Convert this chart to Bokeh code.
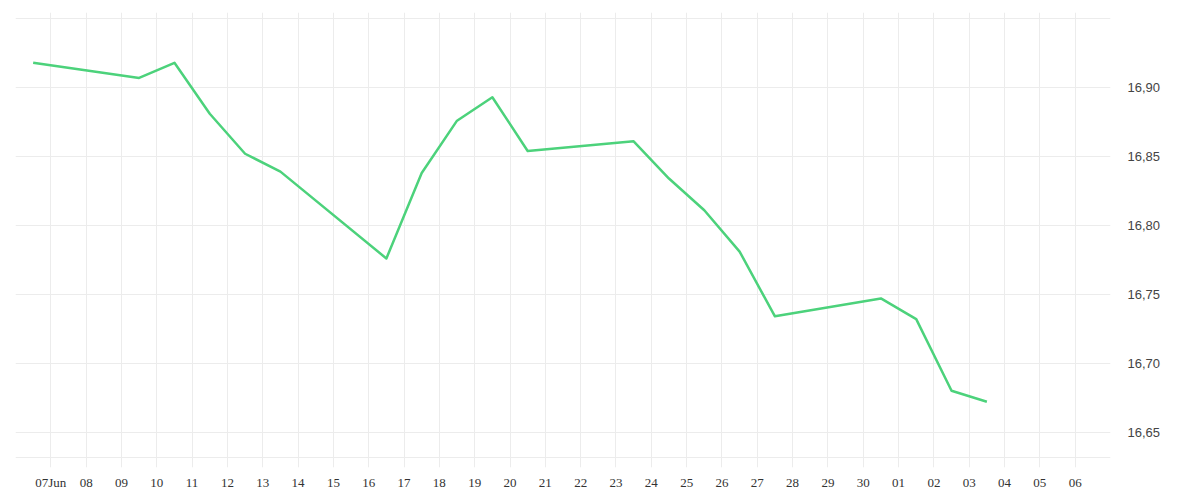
import pandas as pd
from bokeh.plotting import figure
from bokeh.models import FixedTicker, Range1d, ColumnDataSource
from bokeh.embed import file_html
from bokeh.resources import INLINE

# ---- data ----
dates = ["2025-06-06", "2025-06-09", "2025-06-10", "2025-06-11", "2025-06-12",
         "2025-06-13", "2025-06-16", "2025-06-17", "2025-06-18", "2025-06-19",
         "2025-06-20", "2025-06-23", "2025-06-24", "2025-06-25", "2025-06-26",
         "2025-06-27", "2025-06-30", "2025-07-01", "2025-07-02", "2025-07-03"]
values = [16.918, 16.907, 16.918, 16.881, 16.852,
          16.839, 16.776, 16.838, 16.876, 16.893,
          16.854, 16.861, 16.834, 16.811, 16.781,
          16.734, 16.747, 16.732, 16.680, 16.672]

x_tick_dates = ["2025-06-07", "2025-06-08", "2025-06-09", "2025-06-10", "2025-06-11",
                "2025-06-12", "2025-06-13", "2025-06-14", "2025-06-15", "2025-06-16",
                "2025-06-17", "2025-06-18", "2025-06-19", "2025-06-20", "2025-06-21",
                "2025-06-22", "2025-06-23", "2025-06-24", "2025-06-25", "2025-06-26",
                "2025-06-27", "2025-06-28", "2025-06-29", "2025-06-30", "2025-07-01",
                "2025-07-02", "2025-07-03", "2025-07-04", "2025-07-05", "2025-07-06"]
x_tick_labels = ["07Jun", "08", "09", "10", "11", "12", "13", "14", "15", "16",
                 "17", "18", "19", "20", "21", "22", "23", "24", "25", "26",
                 "27", "28", "29", "30", "01", "02", "03", "04", "05", "06"]

y_ticks = [16.65, 16.70, 16.75, 16.80, 16.85, 16.90]
y_tick_labels = ["16,65", "16,70", "16,75", "16,80", "16,85", "16,90"]

# ---- helpers ----
def ms(d):
    return int(pd.Timestamp(d).value // 10**6)

xs = [pd.Timestamp(d) + pd.Timedelta(hours=12) for d in dates]
src = ColumnDataSource(dict(x=xs, y=values))

x_start = pd.Timestamp("2025-06-06")
x_end = pd.Timestamp("2025-07-07")

p = figure(width=1192, height=492, x_axis_type="datetime", y_axis_location="right",
           x_range=Range1d(x_start, x_end), y_range=Range1d(16.6243, 16.9545),
           output_backend="svg", toolbar_location=None,
           min_border_left=15, min_border_top=12, min_border_right=82, min_border_bottom=24)
p.outline_line_color = None
p.background_fill_color = "white"
p.border_fill_color = "white"

p.line("x", "y", source=src, line_color="#4cd27b", line_width=2.5, line_join="round")

# x axis
xt = [ms(d) for d in x_tick_dates]
p.xaxis.ticker = FixedTicker(ticks=xt)
p.xaxis.major_label_overrides = {t: l for t, l in zip(xt, x_tick_labels)}
p.xaxis.axis_line_color = None
p.xaxis.major_tick_line_color = None
p.xaxis.minor_tick_line_color = None
p.xaxis.major_tick_out = 0
p.xaxis.major_label_standoff = 7
p.xaxis.major_label_text_font = "Liberation Serif"
p.xaxis.major_label_text_font_size = "13px"
p.xaxis.major_label_text_color = "#333333"

# y axis
p.yaxis.ticker = FixedTicker(ticks=y_ticks)
p.yaxis.major_label_overrides = {t: l for t, l in zip(y_ticks, y_tick_labels)}
p.yaxis.axis_line_color = None
p.yaxis.major_tick_line_color = None
p.yaxis.minor_tick_line_color = None
p.yaxis.major_tick_out = 0
p.yaxis.major_label_standoff = 17
p.yaxis.major_label_text_font = "Liberation Sans"
p.yaxis.major_label_text_font_size = "13px"
p.yaxis.major_label_text_color = "#444444"

# grids
grid_x = [ms(x_start + pd.Timedelta(days=i)) for i in range(0, 32)]
p.xgrid.ticker = FixedTicker(ticks=grid_x)
p.ygrid.ticker = FixedTicker(ticks=[16.6313] + y_ticks + [16.95])
p.grid.grid_line_color = "#ececec"
p.grid.grid_line_width = 1

open("out.html", "w").write(file_html(p, INLINE))
